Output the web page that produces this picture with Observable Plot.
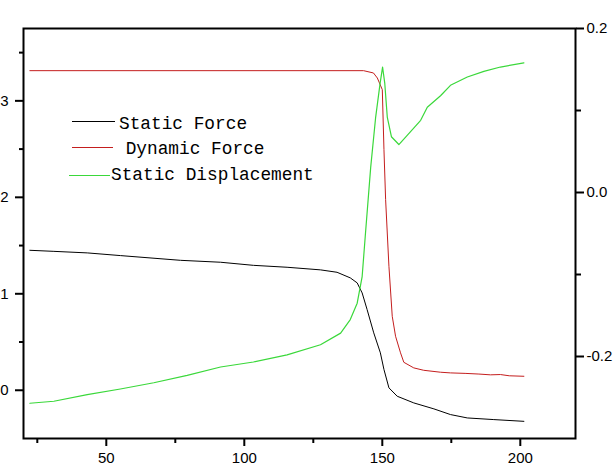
<!DOCTYPE html>
<html>
<head>
<meta charset="utf-8">
<script src="https://cdn.jsdelivr.net/npm/d3@7"></script>
<script src="https://cdn.jsdelivr.net/npm/@observablehq/plot@0.6"></script>
<style>
  body { margin: 0; background: #fff; }
  #chart { position: relative; width: 613px; height: 473px; }
</style>
</head>
<body>
<div id="chart"></div>
<script>
// ---- Data ----
const staticForceX = [22.3, 31, 43.1, 55.1, 76.9, 91.4, 103.3, 115.5, 127.6, 133.6, 138.4, 140.9, 142.7, 144.5, 146.9, 149.3, 150.6, 152.4, 155.4, 161.4, 168.7, 174.7, 180.8, 190.4, 201.3];
const staticForceY = [1.451, 1.44, 1.424, 1.396, 1.347, 1.327, 1.295, 1.275, 1.248, 1.223, 1.165, 1.113, 1.009, 0.836, 0.595, 0.388, 0.215, 0.025, -0.062, -0.131, -0.193, -0.252, -0.287, -0.304, -0.322];

const dynamicForceX = [22.3, 143.2, 146.8, 148.2, 150, 150.6, 151.2, 152.4, 153.6, 154.8, 156.6, 157.8, 161.4, 165, 171.1, 174.7, 180, 185, 189.2, 192.8, 196, 201.3];
const dynamicForceY = [3.313, 3.313, 3.289, 3.237, 3.116, 2.494, 1.976, 1.285, 0.767, 0.56, 0.388, 0.29, 0.232, 0.207, 0.187, 0.18, 0.175, 0.168, 0.16, 0.163, 0.15, 0.145];

const displacementX = [22.3, 31, 43.1, 55.1, 67.2, 79.3, 91.4, 103.3, 115.5, 127.6, 134.9, 138.4, 140.9, 142.7, 143.9, 145.8, 147.6, 149.2, 150.1, 150.9, 151.8, 153.3, 156.0, 159.1, 163.9, 166.3, 171.1, 174.7, 180.8, 186.8, 192.8, 201.3];
const displacementY = [-0.257, -0.2546, -0.2465, -0.2396, -0.232, -0.223, -0.2128, -0.2067, -0.198, -0.1857, -0.1715, -0.155, -0.135, -0.1025, -0.05, 0.031, 0.092, 0.133, 0.153, 0.133, 0.092, 0.068, 0.0585, 0.07, 0.088, 0.104, 0.118, 0.1307, 0.1408, 0.1477, 0.153, 0.158];

const xDomain = [20, 220];
const leftDomain = [-0.5, 3.75];
const rightDomain = [-0.3, 0.2];
const xMajorTicks = [50, 100, 150, 200];
const xMinorTicks = [25, 75, 125, 175];
const leftMajorTicks = [0, 1, 2, 3];
const leftMinorTicks = [0.5, 1.5, 2.5, 3.5];
const rightMajorTicks = [-0.2, 0.0, 0.2];
const rightMinorTicks = [-0.1, 0.1];

const legendLabels = ["Static Force", " Dynamic Force", "Static Displacement"];
const seriesColors = ["#000000", "#c41e1e", "#3ad83a"];

// ---- Build ----
const toLeft = d3.scaleLinear(rightDomain, leftDomain);
const fmtRight = d => { const v = toLeft.invert(d); return Math.abs(v) < 1e-9 ? "0.0" : v.toFixed(1); };

const sf = staticForceX.map((x, i) => ({x, y: staticForceY[i]}));
const df = dynamicForceX.map((x, i) => ({x, y: dynamicForceY[i]}));
const sd = displacementX.map((x, i) => ({x, y: toLeft(displacementY[i])}));

const axisStyle = {strokeWidth: 2, color: "#000"};

const plot = Plot.plot({
  width: 613,
  height: 473,
  marginLeft: 23,
  marginRight: 38,
  marginTop: 28,
  marginBottom: 35,
  style: {fontFamily: "'Liberation Sans', Arial, sans-serif", fontSize: "15px", background: "#fff", overflow: "visible"},
  x: {domain: xDomain},
  y: {domain: leftDomain},
  marks: [
    Plot.axisX({ticks: xMajorTicks, tickSize: 8, tickPadding: 6, tickFormat: d => String(d), label: null, ...axisStyle, fontSize: 15}),
    Plot.axisX({ticks: xMinorTicks, tickSize: 5, tickFormat: () => "", label: null, ...axisStyle}),
    Plot.axisY({ticks: leftMajorTicks, tickSize: 8, tickPadding: 7, tickFormat: d => String(d), label: null, ...axisStyle, fontSize: 15}),
    Plot.axisY({ticks: leftMinorTicks, tickSize: 4, tickFormat: () => "", label: null, ...axisStyle}),
    Plot.axisY({anchor: "right", ticks: rightMajorTicks.map(toLeft), tickSize: 8, tickPadding: 3, tickFormat: fmtRight, label: null, ...axisStyle, fontSize: 15}),
    Plot.axisY({anchor: "right", ticks: rightMinorTicks.map(toLeft), tickSize: 5, tickFormat: () => "", label: null, ...axisStyle}),
    Plot.line(sf, {x: "x", y: "y", stroke: seriesColors[0], strokeWidth: 1}),
    Plot.line(df, {x: "x", y: "y", stroke: seriesColors[1], strokeWidth: 1}),
    Plot.line(sd, {x: "x", y: "y", stroke: seriesColors[2], strokeWidth: 1.2}),
    Plot.frame({stroke: "#000", strokeWidth: 2})
  ]
});

document.getElementById("chart").appendChild(plot);

// ---- In-plot legend ----
const svg = d3.select(plot);
const leg = svg.append("g")
  .attr("font-family", "'Liberation Mono', 'DejaVu Sans Mono', monospace")
  .attr("font-size", "17.8px")
  .attr("text-anchor", "start");
const legRows = [
  {x1: 72, x2: 115, ly: 121.5, tx: 119, ty: 128.5},
  {x1: 72, x2: 113, ly: 147.5, tx: 115, ty: 153.5},
  {x1: 69, x2: 110, ly: 175.5, tx: 111, ty: 180}
];
legendLabels.forEach((lab, i) => {
  const r = legRows[i];
  leg.append("line").attr("x1", r.x1).attr("x2", r.x2).attr("y1", r.ly).attr("y2", r.ly)
    .attr("stroke", seriesColors[i]).attr("stroke-width", 1);
  leg.append("text").attr("x", r.tx).attr("y", r.ty).attr("fill", "#000")
    .attr("text-anchor", "start")
    .style("white-space", "pre").text(lab);
});
</script>
</body>
</html>
